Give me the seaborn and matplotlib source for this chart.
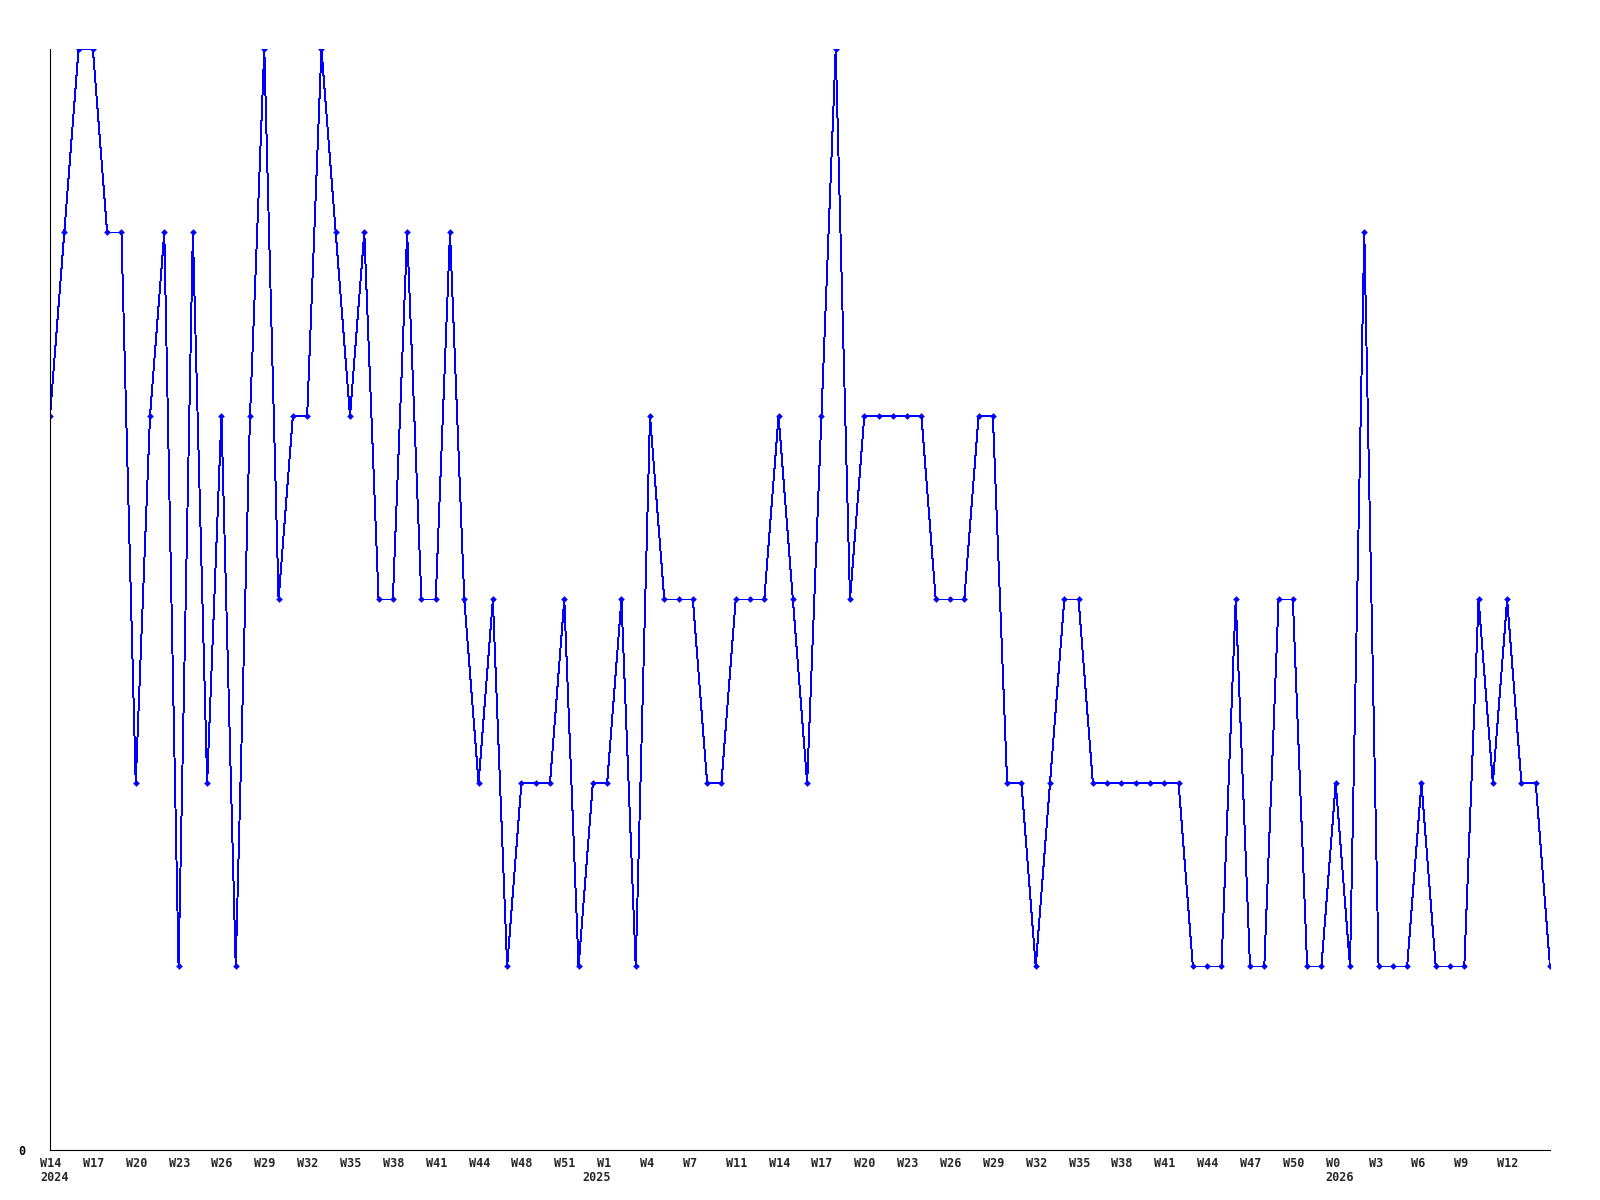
import numpy as np
import pandas as pd
import seaborn as sns
import matplotlib.pyplot as plt

# Wochenwerte (ab W14 2024)
values = [4, 5, 6, 6, 5, 5, 2, 4, 5, 1,
          5, 2, 4, 1, 4, 6, 3, 4, 4, 6,
          5, 4, 5, 3, 3, 5, 3, 3, 5, 3,
          2, 3, 1, 2, 2, 2, 3, 1, 2, 2,
          3, 1, 4, 3, 3, 3, 2, 2, 3, 3,
          3, 4, 3, 2, 4, 6, 3, 4, 4, 4,
          4, 4, 3, 3, 3, 4, 4, 2, 2, 1,
          2, 3, 3, 2, 2, 2, 2, 2, 2, 2,
          1, 1, 1, 3, 1, 1, 3, 3, 1, 1,
          2, 1, 5, 1, 1, 1, 2, 1, 1, 1,
          3, 2, 3, 2, 2, 1]

week_labels = ['W14', 'W17', 'W20', 'W23', 'W26', 'W29', 'W32', 'W35', 'W38', 'W41',
               'W44', 'W48', 'W51', 'W1', 'W4', 'W7', 'W11', 'W14', 'W17', 'W20',
               'W23', 'W26', 'W29', 'W32', 'W35', 'W38', 'W41', 'W44', 'W47', 'W50',
               'W0', 'W3', 'W6', 'W9', 'W12']
year_labels = {0: '2024', 13: '2025', 30: '2026'}

df = pd.DataFrame({'idx': np.arange(len(values)), 'value': values})

sns.set_theme(style='white')
plt.rcParams['font.family'] = ['DejaVu Sans Mono', 'DejaVu Sans']

fig = plt.figure(figsize=(16, 12), dpi=100)
ax = fig.add_axes([0.03125, 0.041667, 0.9375, 0.9175])

sns.lineplot(data=df, x='idx', y='value', ax=ax, color='#0000ff', linewidth=0.7,
             marker='D', markersize=3.4, markeredgewidth=0, antialiased=False)

ax.set_xlim(0, len(values) - 1)
ax.set_ylim(0, 6)

# Beschriftungen der x-Achse: jede 3. Woche, linksbündig knapp vor dem Punkt
ax.set_xticks([])
for i, w in enumerate(week_labels):
    pos = 3 * i
    ax.annotate(w, xy=(pos, 0), xycoords=('data', 'axes fraction'),
                xytext=(-10, -7), textcoords='offset pixels',
                ha='left', va='top', fontsize=8.5, fontweight='bold',
                annotation_clip=False)
    if i in year_labels:
        dx = -25 if year_labels[i] == '2025' else -10
        ax.annotate(year_labels[i], xy=(pos, 0), xycoords=('data', 'axes fraction'),
                    xytext=(dx, -21), textcoords='offset pixels',
                    ha='left', va='top', fontsize=8.5, fontweight='bold',
                    annotation_clip=False)

ax.set_yticks([0])
ax.set_yticklabels(['0'], fontsize=8.5, fontweight='bold')
ax.tick_params(axis='y', length=0, pad=18, colors='black')
ax.set_xlabel('')
ax.set_ylabel('')

for side in ['top', 'right']:
    ax.spines[side].set_visible(False)
for side in ['left', 'bottom']:
    ax.spines[side].set_color('black')
    ax.spines[side].set_linewidth(0.8)

plt.savefig('out.png', dpi=100)
